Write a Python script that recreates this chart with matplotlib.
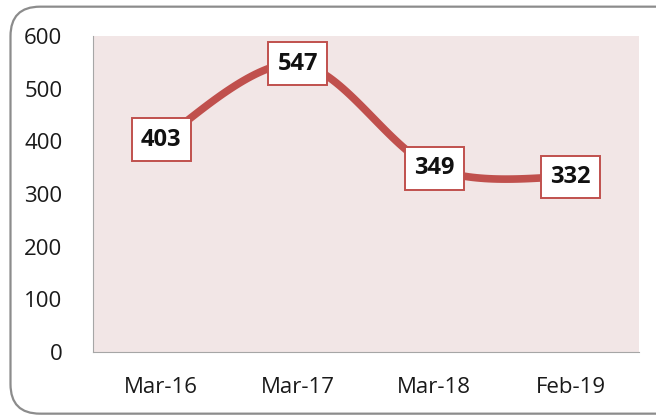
import matplotlib.pyplot as plt
import numpy as np
from matplotlib.patches import FancyBboxPatch

# --- data -------------------------------------------------------------------
categories = ["Mar-16", "Mar-17", "Mar-18", "Feb-19"]
values = [403, 547, 349, 332]
y_ticks = [0, 100, 200, 300, 400, 500, 600]

C_LINE, C_BG, C_AXIS = "#C0504D", "#F2E6E6", "#A6A6A6"
plt.rcParams["font.family"] = ["Open Sans", "DejaVu Sans"]


def smooth(xs, ys, n=40):
    """Catmull-Rom spline through the points (like Excel's smoothed line)."""
    p = np.column_stack([xs, ys]).astype(float)
    p = np.vstack([p[0], p, p[-1]])
    out = []
    for i in range(1, len(p) - 2):
        p0, p1, p2, p3 = p[i - 1], p[i], p[i + 1], p[i + 2]
        t = np.linspace(0, 1, n)[:, None]
        seg = 0.5 * ((2 * p1) + (-p0 + p2) * t
                     + (2 * p0 - 5 * p1 + 4 * p2 - p3) * t ** 2
                     + (-p0 + 3 * p1 - 3 * p2 + p3) * t ** 3)
        out.append(seg)
    s = np.vstack(out)
    return s[:, 0], s[:, 1]


fig = plt.figure(figsize=(6.56, 4.17), dpi=100)
ax = fig.add_axes([0.1418, 0.156, 0.974 - 0.1418, 0.914 - 0.156])

# rounded chart border
fig.patches.append(FancyBboxPatch((0.016, 0.008), 1.1, 0.976,
                                  boxstyle="round,pad=0,rounding_size=0.045",
                                  transform=fig.transFigure, fc="none",
                                  ec="#8C8C8C", lw=1.6, mutation_aspect=656 / 417))

x = np.arange(len(categories))
sx, sy = smooth(x, values)
ax.set_facecolor(C_BG)
ax.plot(sx, sy, color=C_LINE, lw=5.5, solid_capstyle="round", zorder=2)
for xi, v in zip(x, values):
    ax.text(xi, v, f"{v}", ha="center", va="center", fontsize=17,
            fontweight="bold", color="#111111", zorder=3,
            bbox=dict(boxstyle="square,pad=0.4", fc="white", ec=C_LINE, lw=1.4))

ax.set_xlim(-0.5, len(categories) - 0.5)
ax.set_ylim(0, 600)
ax.set_xticks(x)
ax.set_xticklabels(categories)
ax.set_yticks(y_ticks)
ax.tick_params(length=0, labelsize=16, colors="#1a1a1a")
ax.tick_params(axis="x", pad=18)
ax.tick_params(axis="y", pad=22)
for sp in ("top", "right"):
    ax.spines[sp].set_visible(False)
for sp in ("left", "bottom"):
    ax.spines[sp].set_color(C_AXIS)

fig.savefig("out.png", dpi=100)
